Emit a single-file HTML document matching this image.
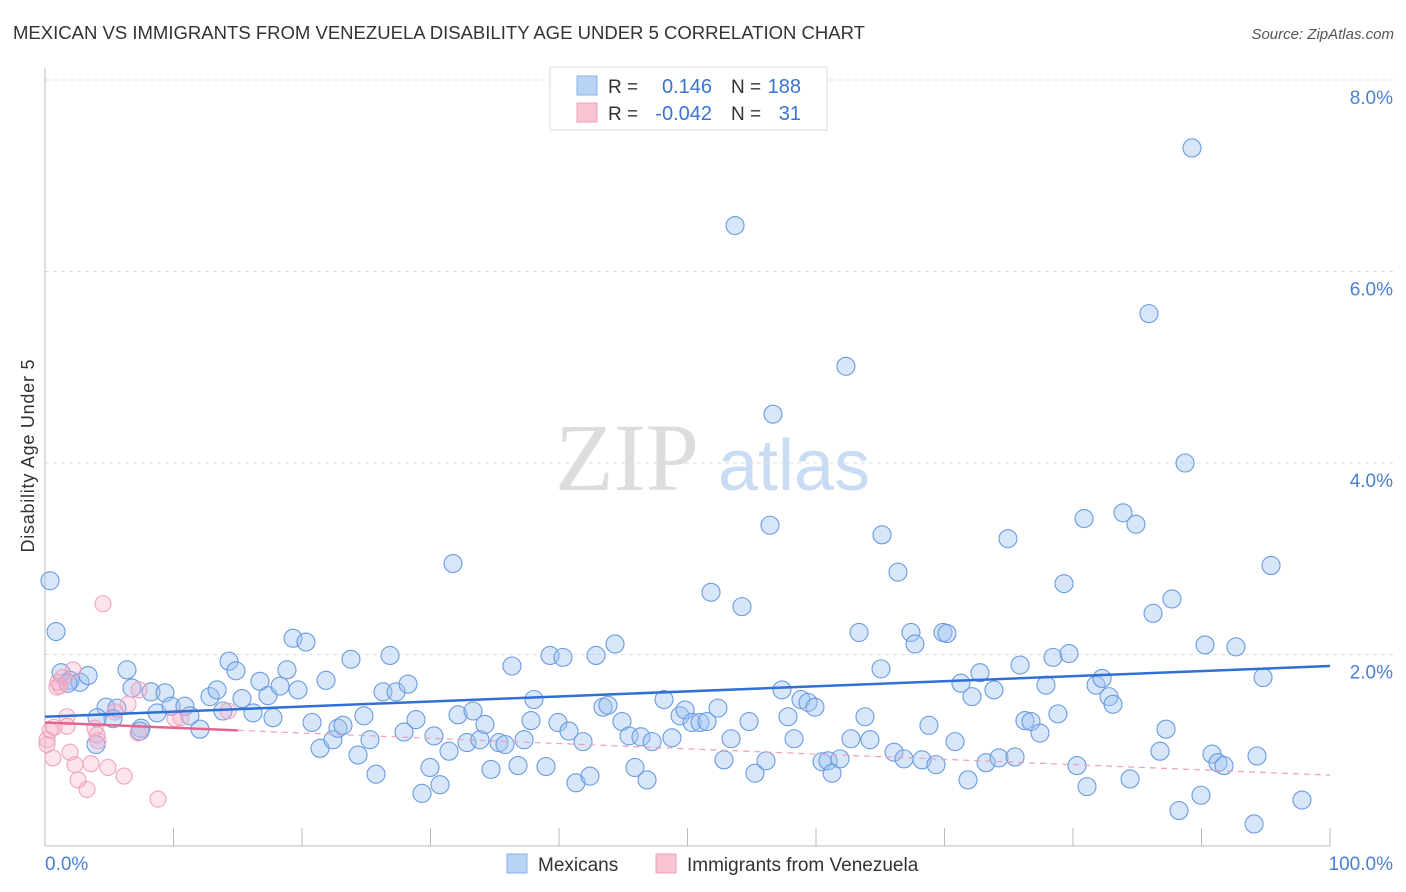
<!DOCTYPE html>
<html><head><meta charset="utf-8"><style>
body{margin:0;background:#fff;font-family:"Liberation Sans",sans-serif}
</style></head><body>
<svg id="c" width="1406" height="892" xmlns="http://www.w3.org/2000/svg" style="display:block">
<text x="13" y="39" font-size="18" fill="#333" textLength="852" lengthAdjust="spacingAndGlyphs">MEXICAN VS IMMIGRANTS FROM VENEZUELA DISABILITY AGE UNDER 5 CORRELATION CHART</text>
<text x="1394" y="39" font-size="15" fill="#555" font-style="italic" text-anchor="end">Source: ZipAtlas.com</text>
<text transform="translate(34,456) rotate(-90)" font-size="18" fill="#333" text-anchor="middle" textLength="193">Disability Age Under 5</text>
<g><text x="555" y="490" font-size="96" font-family="Liberation Serif,serif" fill="#ddd">ZIP</text><text x="718" y="490" font-size="72" fill="#c9dcf3">atlas</text></g>
<g id="grid"></g><g id="axes"></g><g id="pts"></g><g id="trend"></g>
<g>
<rect x="550" y="67" width="277" height="63" fill="#fff" stroke="#ddd"/>
<rect x="577" y="76" width="20" height="19" fill="#b9d3f5" stroke="#8ab0e6"/>
<rect x="577" y="103" width="20" height="19" fill="#f8c4d2" stroke="#eca3b8"/>
<text x="608" y="93" font-size="19" fill="#333">R =</text><text x="712" y="93" font-size="20" fill="#3b74d0" text-anchor="end">0.146</text>
<text x="731" y="93" font-size="19" fill="#333">N =</text><text x="801" y="93" font-size="20" fill="#3b74d0" text-anchor="end">188</text>
<text x="608" y="120" font-size="19" fill="#333">R =</text><text x="712" y="120" font-size="20" fill="#3b74d0" text-anchor="end">-0.042</text>
<text x="731" y="120" font-size="19" fill="#333">N =</text><text x="801" y="120" font-size="20" fill="#3b74d0" text-anchor="end">31</text>
</g>
<g>
<rect x="507" y="854" width="20" height="19" fill="#b9d3f5" stroke="#8ab0e6"/>
<text x="538" y="871" font-size="19" fill="#333">Mexicans</text>
<rect x="656" y="854" width="20" height="19" fill="#f8c4d2" stroke="#eca3b8"/>
<text x="687" y="871" font-size="19" fill="#333">Immigrants from Venezuela</text>
</g>
</svg>
<script>
const yTicks=[2,4,6,8];
const yTickLabels=["2.0%","4.0%","6.0%","8.0%"];
const xTickLabels=["0.0%","100.0%"];
const blueX=[0.39,0.86,1.25,1.95,2.72,3.35,1.79,4.75,5.60,6.38,6.77,8.25,9.34,8.72,9.81,10.89,11.28,12.06,5.29,4.05,3.97,7.47,7.39,12.84,13.39,14.32,13.85,14.86,15.33,16.19,16.73,17.35,17.74,18.29,18.83,19.30,20.31,19.69,20.78,21.40,21.87,22.41,22.80,23.19,23.81,24.36,24.82,25.29,25.76,26.30,26.85,27.32,27.94,28.25,28.87,29.34,29.96,30.27,30.74,31.44,31.75,32.14,32.84,33.31,33.85,34.24,34.71,35.33,35.80,36.34,36.81,37.28,37.82,38.05,38.99,39.30,39.92,40.31,40.78,41.32,41.87,42.41,42.88,43.42,43.81,44.36,44.90,45.45,45.91,46.38,46.85,47.24,48.17,48.79,49.42,49.81,50.35,50.97,51.52,51.83,52.37,52.84,53.39,53.70,54.24,54.79,55.25,56.11,56.42,56.65,57.35,57.82,58.29,58.83,59.38,59.92,60.47,60.93,61.25,61.87,62.33,62.72,63.35,63.81,64.20,65.06,65.14,66.07,66.38,66.85,67.39,67.70,68.25,68.79,69.34,69.88,70.19,70.82,71.28,71.83,72.14,72.76,73.23,73.85,74.24,74.94,75.49,75.88,76.26,76.73,77.43,77.90,78.44,78.83,79.30,79.69,80.31,80.86,81.09,81.79,82.26,82.80,83.11,83.89,84.44,84.90,85.91,86.23,86.77,87.24,87.70,88.25,88.72,89.26,89.96,90.27,90.82,91.28,91.75,92.68,94.32,94.79,95.41,97.82,94.09];
const blueY=[2.77,2.24,1.81,1.73,1.71,1.78,1.70,1.45,1.44,1.84,1.65,1.61,1.60,1.39,1.46,1.46,1.36,1.22,1.33,1.34,1.06,1.23,1.20,1.56,1.63,1.93,1.41,1.83,1.54,1.39,1.72,1.57,1.34,1.67,1.84,2.17,2.13,1.63,1.29,1.02,1.73,1.11,1.23,1.26,1.95,0.95,1.36,1.11,0.75,1.61,1.99,1.61,1.19,1.69,1.32,0.55,0.82,1.15,0.64,0.99,2.95,1.37,1.08,1.41,1.11,1.27,0.80,1.08,1.06,1.88,0.84,1.11,1.31,1.53,0.83,1.99,1.29,1.97,1.20,0.66,1.09,0.73,1.99,1.45,1.47,2.11,1.30,1.15,0.82,1.14,0.69,1.09,1.53,1.13,1.36,1.42,1.29,1.29,1.30,2.65,1.44,0.90,1.12,6.48,2.50,1.30,0.76,0.89,3.35,4.51,1.63,1.35,1.12,1.53,1.50,1.45,0.88,0.89,0.76,0.91,5.01,1.12,2.23,1.35,1.11,1.85,3.25,0.98,2.86,0.91,2.23,2.11,0.90,1.26,0.85,2.23,2.22,1.09,1.70,0.69,1.56,1.81,0.87,1.63,0.92,3.21,0.93,1.89,1.31,1.30,1.18,1.68,1.97,1.38,2.74,2.01,0.84,3.42,0.62,1.68,1.75,1.56,1.48,3.48,0.70,3.36,5.56,2.43,0.99,1.22,2.58,0.37,4.00,7.29,0.53,2.10,0.96,0.87,0.84,2.08,0.94,1.76,2.93,0.48,0.23];
const pinkX=[0.16,0.39,0.62,0.93,1.01,1.40,1.71,1.95,2.33,2.57,2.18,3.27,3.58,3.89,4.12,4.51,4.90,5.45,6.15,6.46,7.24,7.32,8.79,10.12,10.58,14.24,0.16,0.70,4.05,1.71,1.17];
const pinkY=[1.11,1.21,0.92,1.66,1.71,1.76,1.35,0.98,0.85,0.69,1.84,0.59,0.86,1.23,1.10,2.53,0.82,1.40,0.73,1.48,1.18,1.63,0.49,1.33,1.34,1.41,1.06,1.24,1.16,1.25,1.67];
const blueTrend=[1.35,1.88];
const pinkTrend=[1.29,0.74];
const pinkSolidEnd=15;
const NS="http://www.w3.org/2000/svg";
const X0=45,X1=1330,Y0=846,PXU=95.75;
const sx=v=>X0+(X1-X0)*v/100, sy=v=>Y0-v*PXU;
function mk(t,a,p){const e=document.createElementNS(NS,t);for(const k in a)e.setAttribute(k,a[k]);p.appendChild(e);return e;}
const grid=document.getElementById('grid'),axes=document.getElementById('axes'),pts=document.getElementById('pts'),tr=document.getElementById('trend');
yTicks.forEach((t,i)=>{
 const l=mk('line',{x1:X0,x2:1393,y1:sy(t),y2:sy(t),stroke:'#ddd','stroke-dasharray':'4,4'},grid);
 
 
 const tx=mk('text',{x:1393,y:sy(t)+24,'font-size':19,fill:'#4a7fd4','text-anchor':'end'},axes);
 tx.textContent=yTickLabels[i];
 
 
});
const al=mk('line',{x1:X0,x2:X0,y1:68,y2:Y0,stroke:'#bbb'},axes);


const bl=mk('line',{x1:X0,x2:X1,y1:Y0,y2:Y0,stroke:'#bbb'},axes);


for(let i=0;i<=10;i++){
 const t=mk('line',{x1:sx(i*10),x2:sx(i*10),y1:828,y2:Y0,stroke:'#bbb'},axes);
 
 
}
const xl0=mk('text',{x:45,y:870,'font-size':19,fill:'#4a7fd4'},axes);xl0.textContent=xTickLabels[0];


const xl1=mk('text',{x:1393,y:870,'font-size':19,fill:'#4a7fd4','text-anchor':'end'},axes);xl1.textContent=xTickLabels[1];


blueX.forEach((x,i)=>{
 const c=mk('circle',{cx:sx(x),cy:sy(blueY[i]),r:9,fill:'rgba(160,195,240,0.42)',stroke:'#6a9be0','stroke-width':1.1},pts);
 
 
});
pinkX.forEach((x,i)=>{
 const c=mk('circle',{cx:sx(x),cy:sy(pinkY[i]),r:8,fill:'rgba(245,170,195,0.3)',stroke:'#f0a5bc','stroke-width':1.1},pts);
 
 
});
const bt=mk('line',{x1:sx(0),x2:sx(100),y1:sy(blueTrend[0]),y2:sy(blueTrend[1]),stroke:'#2f6fd6','stroke-width':2.5},tr);


const pm=pinkTrend[0]+(pinkTrend[1]-pinkTrend[0])*pinkSolidEnd/100;
const ps=mk('line',{x1:sx(0),x2:sx(pinkSolidEnd),y1:sy(pinkTrend[0]),y2:sy(pm),stroke:'#e4648c','stroke-width':2.5},tr);


const pd=mk('line',{x1:sx(pinkSolidEnd),x2:sx(100),y1:sy(pm),y2:sy(pinkTrend[1]),stroke:'#eea0b8','stroke-width':1.2,'stroke-dasharray':'6,5'},tr);


</script>
</body></html>
